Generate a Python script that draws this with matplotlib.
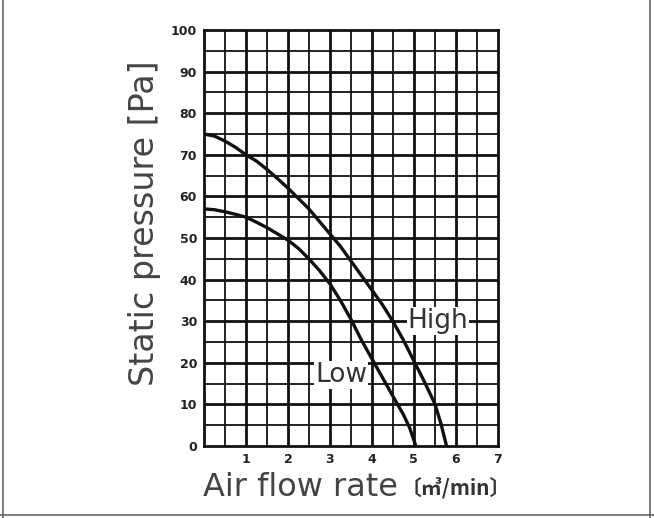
import numpy as np
import matplotlib.pyplot as plt
from matplotlib.lines import Line2D

# curve readings (air flow m3/min, static pressure Pa)
high_x = [0, 0.25, 0.5, 0.75, 1, 1.25, 1.5, 1.75, 2, 2.25, 2.5, 2.75, 3, 3.25,
          3.5, 3.75, 4, 4.25, 4.5, 4.75, 5, 5.25, 5.5, 5.65, 5.78]
high_y = [75, 74.5, 73.3, 71.8, 70, 68.5, 66.5, 64.3, 62, 59.5, 57, 54, 51, 48,
          44.5, 41, 37.5, 34, 30, 25.5, 20.5, 15.5, 10.2, 5.3, 0]
low_x = [0, 0.25, 0.5, 0.75, 1, 1.25, 1.5, 1.75, 2, 2.25, 2.5, 2.75, 3, 3.25,
         3.5, 3.75, 4, 4.25, 4.5, 4.75, 4.9, 5.05]
low_y = [57, 56.8, 56.3, 55.7, 55, 53.8, 52.5, 51, 49.5, 47.5, 45, 42.2, 39, 35,
         30.5, 25.5, 21, 16.5, 12, 7.6, 4.4, 0]

x_ticks = [1, 2, 3, 4, 5, 6, 7]
y_ticks = [0, 10, 20, 30, 40, 50, 60, 70, 80, 90, 100]

fig = plt.figure(figsize=(6.54, 5.18), dpi=100)
ax = fig.add_axes([0.312, 0.139, 0.449, 0.803])

# grid: thick every unit / 10 Pa, thin at halves
for v in np.arange(0.5, 7, 0.5):
    ax.axvline(v, color="#111111", lw=2.0 if v % 1 == 0 else 1.3, zorder=1)
for v in np.arange(5, 100, 5):
    ax.axhline(v, color="#111111", lw=2.0 if v % 10 == 0 else 1.3, zorder=1)

ax.plot(high_x, high_y, color="#111111", lw=2.4, zorder=3)
ax.plot(low_x, low_y, color="#111111", lw=2.4, zorder=3)

ax.set_xlim(0, 7)
ax.set_ylim(0, 100)
ax.set_xticks(x_ticks)
ax.set_yticks(y_ticks)
ax.tick_params(length=0, labelsize=9, colors="#222222", pad=5)
for lab in ax.get_xticklabels() + ax.get_yticklabels():
    lab.set_fontweight("bold")
    lab.set_fontfamily("Liberation Sans Narrow")
for s in ax.spines.values():
    s.set_linewidth(2)
    s.set_color("#111111")

ax.text(5.58, 30, "High", fontsize=19, color="#333333", ha="center", va="center",
        bbox=dict(facecolor="white", edgecolor="none", pad=0.5), zorder=4)
ax.text(3.27, 17, "Low", fontsize=19, color="#333333", ha="center", va="center",
        bbox=dict(facecolor="white", edgecolor="none", pad=0.5), zorder=4)

ax.set_ylabel("Static pressure [Pa]", fontsize=24, color="#444444")
ax.yaxis.set_label_coords(-0.146, 0.535)
fig.text(0.609, 0.058, "Air flow rate", fontsize=23, color="#444444", ha="right", va="center")
fig.text(0.613, 0.058, "〔㎥/min〕", fontsize=15, fontweight="bold", color="#333333",
         ha="left", va="center", family=["Noto Sans CJK JP", "DejaVu Sans"])

# outer frame of the picture
for xs, ys in [([0.005, 0.005], [0, 1]), ([0.994, 0.994], [0, 1]), ([0, 1], [0.006, 0.006])]:
    fig.add_artist(Line2D(xs, ys, color="#666666", lw=1.2, transform=fig.transFigure))

plt.savefig("out.png", dpi=100)
